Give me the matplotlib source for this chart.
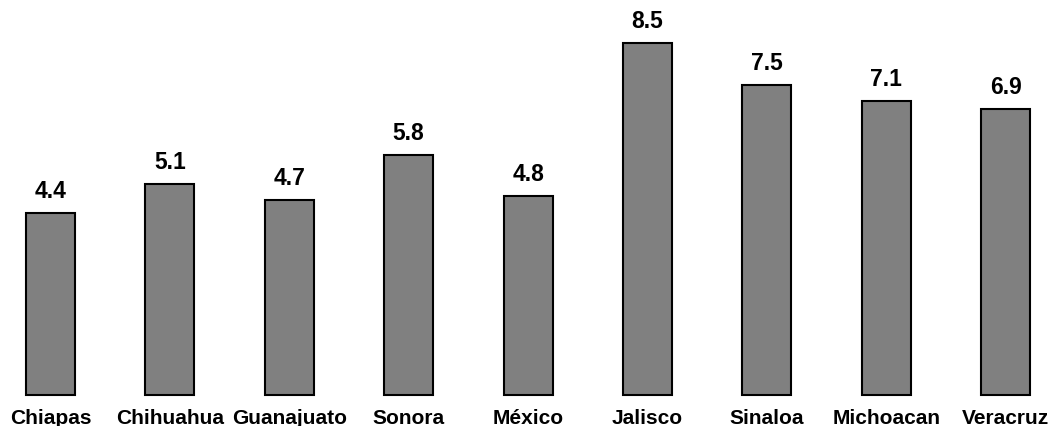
import matplotlib
matplotlib.use("Agg")
import matplotlib.pyplot as plt

# State names and their values
states = ["Chiapas", "Chihuahua", "Guanajuato", "Sonora", "México",
          "Jalisco", "Sinaloa", "Michoacan", "Veracruz"]
values = [4.4, 5.1, 4.7, 5.8, 4.8, 8.5, 7.5, 7.1, 6.9]

plt.rcParams["font.family"] = ["Liberation Sans", "DejaVu Sans"]

W, H, DPI = 1052, 427, 100
fig = plt.figure(figsize=(W / DPI, H / DPI), dpi=DPI)
ax = fig.add_axes([0, 0, 1, 1])

px_x = 119.4   # pixels per category step
px_y = 41.4    # pixels per unit of value
x0 = 50.5      # centre of the first bar in pixels
base = 31      # baseline height from the bottom, in pixels

x = list(range(len(states)))
ax.bar(x, values, width=0.41, color="#808080", edgecolor="black",
       linewidth=1.5)

for xi, v, name in zip(x, values, states):
    ax.annotate(f"{v:.1f}", (xi, v), xytext=(0, 16),
                textcoords="offset pixels", ha="center", va="baseline",
                fontsize=16.5, fontweight="bold")
    ax.annotate(name, (xi, 0), xytext=(0, -28),
                textcoords="offset pixels", ha="center", va="baseline",
                fontsize=15, fontweight="bold")

ax.set_xlim(-x0 / px_x, (W - x0) / px_x)
ax.set_ylim(-base / px_y, (H - base) / px_y)
ax.axis("off")

fig.savefig("out.png", dpi=DPI)
